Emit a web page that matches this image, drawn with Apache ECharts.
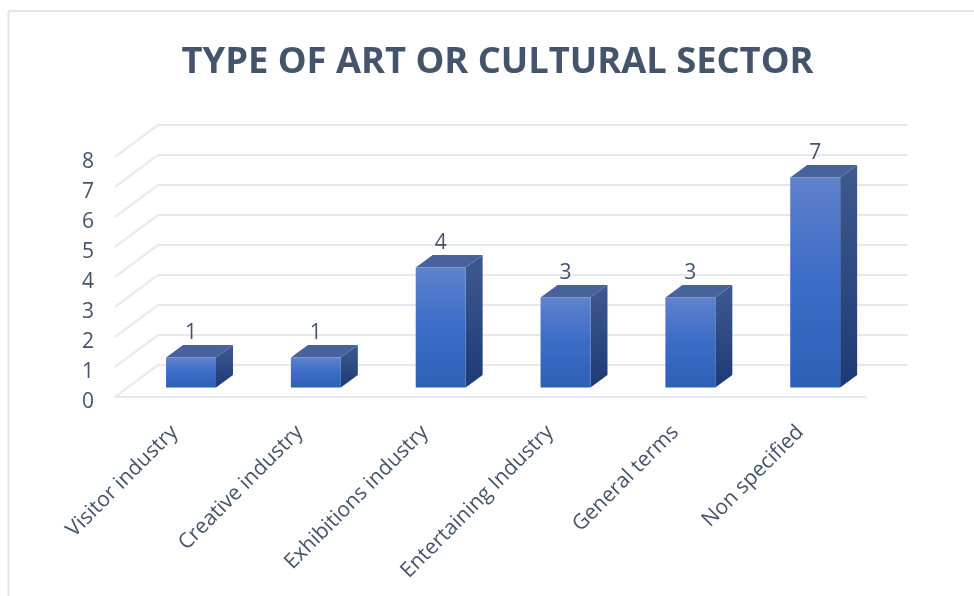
<!DOCTYPE html>
<html>
<head>
<meta charset="utf-8">
<style>
  html, body { margin: 0; padding: 0; background: #fff; }
  #chart { width: 974px; height: 596px; }
</style>
<script src="https://cdn.jsdelivr.net/npm/echarts@6/dist/echarts.min.js"></script>
</head>
<body>
<div id="chart"></div>
<script>
const categories = ['Visitor industry', 'Creative industry', 'Exhibitions industry', 'Entertaining Industry', 'General terms', 'Non specified'];
const sectorCounts = [1, 1, 4, 3, 3, 7];
const titleText = 'TYPE OF ART OR CULTURAL SECTOR';
const yMax = 8;
const yTicks = [0, 1, 2, 3, 4, 5, 6, 7, 8];

const inkColor = '#44546a';
const gridColor = '#e5e8f0';
const fontFamily = '"Open Sans", sans-serif';

// Depth of the pseudo-3D box and of the floor, in pixels
const barDepth = { x: 17, y: 12.5 };
const wallDepth = { x: 43, y: 32 };

const vGrad = (stops) => new echarts.graphic.LinearGradient(0, 0, 0, 1,
  stops.map(([offset, color]) => ({ offset, color })));
const frontFill = vGrad([[0, '#5f82cc'], [0.5, '#3b6cc7'], [1, '#2e60b5']]);
const sideFill = vGrad([[0, '#3f5a8f'], [1, '#1d3a76']]);
const topFill = '#48629b';

function renderBox(params, api) {
  const cat = api.value(0);
  const val = api.value(1);
  const [cx, yTop] = api.coord([cat, val]);
  const [, yBase] = api.coord([cat, 0]);
  const w = api.size([1, 0])[0] * 0.4;
  const x0 = cx - w / 2, x1 = cx + w / 2;
  const dx = barDepth.x, dy = barDepth.y;
  return {
    type: 'group',
    children: [
      { type: 'polygon', shape: { points: [[x1, yTop], [x1 + dx, yTop - dy], [x1 + dx, yBase - dy], [x1, yBase]] }, style: { fill: sideFill } },
      { type: 'polygon', shape: { points: [[x0, yTop], [x0 + dx, yTop - dy], [x1 + dx, yTop - dy], [x1, yTop]] }, style: { fill: topFill } },
      { type: 'rect', shape: { x: x0, y: yTop, width: w, height: yBase - yTop }, style: { fill: frontFill } },
      { type: 'text', style: { text: String(val), x: cx, y: yTop - dy - 1, align: 'center', verticalAlign: 'bottom', fill: inkColor, font: '21px ' + fontFamily } }
    ]
  };
}

// Diagonal wall strokes running back from each tick of the front plane
function renderWallLine(params, api) {
  const v = api.value(0);
  const x = params.coordSys.x;
  const y = api.coord([0, v])[1];
  return {
    type: 'line',
    shape: { x1: x, y1: y, x2: x + wallDepth.x, y2: y - wallDepth.y },
    style: { stroke: gridColor, lineWidth: 2 }
  };
}

const hiddenCategoryAxis = (gridIndex) => ({
  type: 'category', gridIndex, data: categories,
  axisLine: { show: false }, axisTick: { show: false }, axisLabel: { show: false }
});

const chart = echarts.init(document.getElementById('chart'), null, { renderer: 'canvas' });
chart.setOption({
  animation: false,
  backgroundColor: '#fff',
  title: {
    text: titleText, left: 492.5, top: 40, textAlign: 'center',
    textStyle: { color: inkColor, fontFamily, fontWeight: 'bold', fontSize: 36.3 }
  },
  grid: [
    { left: 115, top: 157, width: 751, height: 240 },    // front plane: floor edge and wall strokes
    { left: 158, top: 125, width: 750, height: 240 },    // back wall: gridlines
    { left: 128.6, top: 147.5, width: 749, height: 240 }, // plane the bars stand on
    { left: 112, top: 162, width: 751, height: 240 }     // plane carrying the axis labels
  ],
  xAxis: [
    { type: 'category', gridIndex: 0, data: categories,
      axisLine: { show: true, lineStyle: { color: gridColor, width: 2 } }, axisTick: { show: false }, axisLabel: { show: false } },
    hiddenCategoryAxis(1),
    hiddenCategoryAxis(2),
    { type: 'category', gridIndex: 3, data: categories, axisLine: { show: false }, axisTick: { show: false },
      axisLabel: { rotate: 45, margin: 27, interval: 0, color: inkColor, fontFamily, fontSize: 21 } }
  ],
  yAxis: [
    { type: 'value', gridIndex: 0, min: 0, max: yMax, interval: 1,
      axisLine: { show: false }, axisTick: { show: false }, splitLine: { show: false }, axisLabel: { show: false } },
    { type: 'value', gridIndex: 1, min: 0, max: yMax, interval: 1,
      axisLine: { show: false }, axisTick: { show: false }, axisLabel: { show: false },
      splitLine: { show: true, lineStyle: { color: gridColor, width: 2 } } },
    { type: 'value', gridIndex: 2, min: 0, max: yMax, interval: 1, show: false },
    { type: 'value', gridIndex: 3, min: 0, max: yMax, interval: 1,
      axisLine: { show: false }, axisTick: { show: false }, splitLine: { show: false },
      axisLabel: { margin: 18, color: inkColor, fontFamily, fontSize: 21 } }
  ],
  series: [
    { type: 'custom', xAxisIndex: 0, yAxisIndex: 0, z: 1, silent: true,
      renderItem: renderWallLine, data: yTicks.map((v) => [v]), encode: { y: 0 } },
    { type: 'custom', xAxisIndex: 2, yAxisIndex: 2, z: 3,
      renderItem: renderBox, data: sectorCounts.map((v, i) => [i, v]), encode: { x: 0, y: 1 } }
  ],
  graphic: [
    { type: 'line', silent: true, shape: { x1: 8.5, y1: 11, x2: 974, y2: 11 }, style: { stroke: '#e1e5ed', lineWidth: 2 } },
    { type: 'line', silent: true, shape: { x1: 8.5, y1: 11, x2: 8.5, y2: 596 }, style: { stroke: '#e1e5ed', lineWidth: 2 } }
  ]
});
</script>
</body>
</html>
